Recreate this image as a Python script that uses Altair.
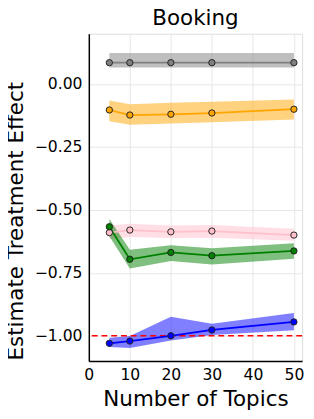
import altair as alt
import pandas as pd

x_vals = [5, 10, 20, 30, 50]
series = ["gray", "orange", "pink", "green", "blue"]
colors = ["#808080", "#FFA500", "#FFC0CB", "#008000", "#0000FF"]

y_gray = [0.085, 0.085, 0.085, 0.085, 0.085]
lo_gray = [0.066, 0.066, 0.066, 0.066, 0.066]
hi_gray = [0.123, 0.123, 0.123, 0.123, 0.123]

y_orange = [-0.103, -0.123, -0.120, -0.115, -0.100]
lo_orange = [-0.148, -0.162, -0.157, -0.152, -0.141]
hi_orange = [-0.065, -0.080, -0.074, -0.070, -0.061]

y_pink = [-0.590, -0.580, -0.587, -0.584, -0.600]
lo_pink = [-0.616, -0.608, -0.612, -0.611, -0.623]
hi_pink = [-0.562, -0.555, -0.562, -0.560, -0.575]

y_green = [-0.567, -0.696, -0.669, -0.682, -0.663]
lo_green = [-0.605, -0.733, -0.703, -0.717, -0.694]
hi_green = [-0.536, -0.658, -0.640, -0.652, -0.632]

y_blue = [-1.030, -1.021, -1.000, -0.977, -0.945]
lo_blue = [-1.045, -1.049, -1.019, -0.997, -0.978]
hi_blue = [-1.008, -1.001, -0.924, -0.952, -0.910]

reference_value = [-1.0]

rows = []
for name, ys, los, his in [
    ("gray", y_gray, lo_gray, hi_gray),
    ("orange", y_orange, lo_orange, hi_orange),
    ("pink", y_pink, lo_pink, hi_pink),
    ("green", y_green, lo_green, hi_green),
    ("blue", y_blue, lo_blue, hi_blue),
]:
    for i, xv in enumerate(x_vals):
        rows.append({"series": name, "x": xv, "y": ys[i], "lo": los[i], "hi": his[i]})
df = pd.DataFrame(rows)
ref_df = pd.DataFrame({"y": reference_value})

FONT = "DejaVu Sans"
xs = alt.Scale(domain=[0, 52], nice=False, zero=False)
ys_ = alt.Scale(domain=[-1.10, 0.20], nice=False, zero=False)
cs = alt.Scale(domain=series, range=colors)

xenc = alt.X("x:Q", scale=xs, axis=alt.Axis(
    title="Number of Topics", values=[0, 10, 20, 30, 40, 50], format="d",
    labelFontSize=16, titleFontSize=22, labelFont=FONT, titleFont=FONT,
    labelColor="black", titleColor="black", titleFontWeight="normal",
    domainColor="black", domainWidth=1.5, ticks=False, labelPadding=6,
    gridColor="#e6e6e6", titleBaseline="alphabetic", titleY=46, labelFlush=False))
yenc = alt.Y("y:Q", scale=ys_, axis=alt.Axis(
    title="Estimate Treatment Effect", values=[0, -0.25, -0.5, -0.75, -1.0], format=".2f",
    labelFontSize=16, titleFontSize=22, labelFont=FONT, titleFont=FONT,
    labelColor="black", titleColor="black", titleFontWeight="normal",
    domainColor="black", domainWidth=1.5, ticks=False, labelPadding=7,
    gridColor="#e6e6e6", titleX=-68, titleY=192, titleBaseline="alphabetic",
    titleAlign="center", titleAngle=270))

axes = alt.Chart(df).mark_point(opacity=0).encode(x=xenc, y=yenc)

bands = []
lines = []
for name, col in zip(series, colors):
    sub = alt.Chart(df).transform_filter(alt.datum.series == name)
    bands.append(sub.mark_area(opacity=0.5, color=col, line=False).encode(
        x=alt.X("x:Q", scale=xs), y=alt.Y("lo:Q", scale=ys_), y2=alt.Y2("hi:Q")))
    lines.append(sub.mark_line(strokeWidth=1.8, color=col).encode(
        x=alt.X("x:Q", scale=xs), y=alt.Y("y:Q", scale=ys_)))

rule = alt.Chart(ref_df).mark_rule(color="#ff0000", strokeDash=[6, 4], strokeWidth=1.5).encode(
    y=alt.Y("y:Q", scale=ys_))
pts = alt.Chart(df).mark_point(filled=True, size=42, stroke="#222222", strokeWidth=1, opacity=1).encode(
    x=alt.X("x:Q", scale=xs), y=alt.Y("y:Q", scale=ys_),
    fill=alt.Fill("series:N", scale=cs, legend=None))

chart = alt.layer(axes, *bands, rule, *lines, pts).properties(
    width=219, height=336,
    title=alt.TitleParams("Booking", fontSize=22, font=FONT, fontWeight="normal",
                          color="black", anchor="middle", offset=3.5),
    autosize=alt.AutoSizeParams(type="none"),
    padding={"left": 83, "top": 21, "right": 4, "bottom": 46},
).configure_view(stroke=None).configure(background="white")

chart.save("out.html", embed_options={"renderer": "svg", "actions": False})
